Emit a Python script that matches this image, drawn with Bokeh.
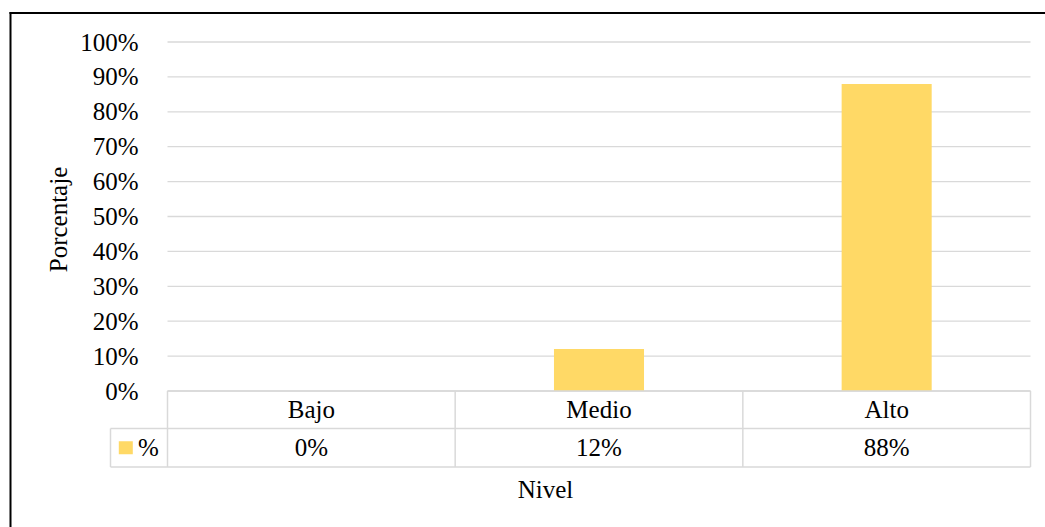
from bokeh.plotting import figure
from bokeh.models import Range1d, LinearAxis, FixedTicker, NumeralTickFormatter
from bokeh.core.properties import value
from bokeh.embed import file_html
from bokeh.resources import INLINE

# ---- data ----
categories = ["Bajo", "Medio", "Alto"]
percent = [0.00, 0.12, 0.88]
y_ticks = [0.0, 0.1, 0.2, 0.3, 0.4, 0.5, 0.6, 0.7, 0.8, 0.9, 1.0]
series_name = "%"
y_title = "Porcentaje"
x_title = "Nivel"

# ---- layout (pixels) ----
W, H = 1045, 527
PL, PR = 167.0, 1030.0      # plot area left/right
Y0, Y100 = 390.5, 41.5      # pixel rows of 0% and 100%
cat_w = (PR - PL) / len(categories)
y_px = (Y0 - Y100) / 1.0

def px2x(px):
    return (px - PL) / cat_w

def px2y(py):
    return (Y0 - py) / y_px

FONT = value("Liberation Serif")
FS = "25px"
GRID = "#d9d9d9"
BAR = "#FFD966"

p = figure(width=W, height=H, output_backend="svg", toolbar_location=None,
           x_range=Range1d(px2x(0), px2x(W)), y_range=Range1d(px2y(H), px2y(0)),
           x_axis_location=None, y_axis_location=None, min_border=0)
p.outline_line_color = None
p.background_fill_color = "white"
p.border_fill_color = "white"
for g in p.grid:
    g.visible = False

n = len(categories)
xs = [i + 0.5 for i in range(n)]

# gridlines
p.segment(x0=[0] * len(y_ticks), x1=[n] * len(y_ticks), y0=y_ticks, y1=y_ticks,
          line_color=GRID, line_width=1.3)

# bars
p.vbar(x=xs, top=percent, bottom=0, width=0.313, fill_color=BAR, line_color=None)

# y axis
yaxis = LinearAxis(ticker=FixedTicker(ticks=y_ticks),
                   formatter=NumeralTickFormatter(format="0%"))
yaxis.fixed_location = 0
yaxis.axis_line_color = None
yaxis.major_tick_line_color = None
yaxis.minor_tick_line_color = None
yaxis.major_label_standoff = 23
yaxis.major_label_text_font = "Liberation Serif"
yaxis.major_label_text_font_size = FS
yaxis.major_label_text_color = "black"
p.add_layout(yaxis, "left")

# data table
r1 = px2y(428.0)
r2 = px2y(466.5)
leg_l = px2x(110.0)
# horizontal lines
p.segment(x0=[0, leg_l, leg_l], x1=[n, n, n], y0=[0, r1, r2], y1=[0, r1, r2],
          line_color=GRID, line_width=1.5)
# vertical lines
vx = [float(i) for i in range(n + 1)]
p.segment(x0=vx, x1=vx, y0=[0] * len(vx), y1=[r2] * len(vx),
          line_color=GRID, line_width=1.5)
p.segment(x0=[leg_l], x1=[leg_l], y0=[r1], y1=[r2], line_color=GRID, line_width=1.5)

row1 = (0 + r1) / 2
row2 = (r1 + r2) / 2
p.text(x=xs, y=[row1] * n, text=categories, text_font=FONT, text_font_size=FS,
       text_align="center", text_baseline="middle", text_color="black")
p.text(x=xs, y=[row2] * n, text=[f"{round(v * 100)}%" for v in percent],
       text_font=FONT, text_font_size=FS, text_align="center",
       text_baseline="middle", text_color="black")
# legend key
p.rect(x=[px2x(125.3)], y=[row2], width=14, height=13, width_units="screen",
       height_units="screen", fill_color=BAR, line_color=None)
p.text(x=[px2x(148.0)], y=[row2], text=[series_name], text_font=FONT,
       text_font_size=FS, text_align="center", text_baseline="middle",
       text_color="black")

# axis titles
p.text(x=[px2x(57.5)], y=[px2y(219.0)], text=[y_title], angle=1.5707963,
       text_font=FONT, text_font_size=FS, text_align="center",
       text_baseline="middle", text_color="black")
p.text(x=[px2x(545.0)], y=[px2y(489.0)], text=[x_title], text_font=FONT,
       text_font_size=FS, text_align="center", text_baseline="middle",
       text_color="black")

# chart border (top and left visible)
p.segment(x0=[px2x(9.0), px2x(10.0)], x1=[px2x(W), px2x(10.0)],
          y0=[px2y(12.5), px2y(11.5)], y1=[px2y(12.5), px2y(H)],
          line_color="black", line_width=2)

open("out.html", "w").write(file_html(p, INLINE))
